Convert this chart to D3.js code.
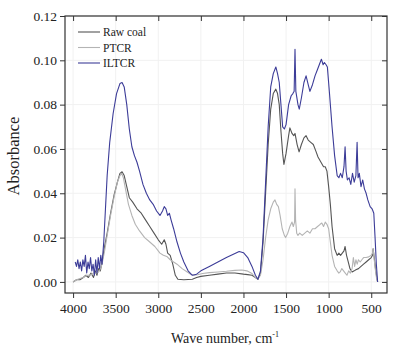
<!DOCTYPE html>
<html>
<head>
<meta charset="utf-8">
<script src="https://cdn.jsdelivr.net/npm/d3@7"></script>
<style>
  body { margin: 0; background: #fff; }
  svg text { font-family: "Liberation Serif", "DejaVu Serif", serif; fill: #222; }
</style>
</head>
<body>
<div id="chart"></div>
<script>
// FTIR spectra, [wave number cm-1, absorbance]
const seriesNames = ["Raw coal", "PTCR", "ILTCR"]

const rawCoal = [
  [4000,0.000],[3960,0.001],[3920,0.001],[3880,0.002],[3850,0.003],[3820,0.002],[3790,0.004],
  [3760,0.002],[3740,0.005],[3720,0.003],[3700,0.006],[3680,0.005],[3660,0.009],[3630,0.016],
  [3600,0.022],[3560,0.031],[3520,0.039],[3480,0.045],[3450,0.049],[3425,0.0497],[3400,0.048],
  [3370,0.043],[3340,0.038],[3300,0.036],[3250,0.033],[3200,0.031],[3150,0.028],[3100,0.025],
  [3050,0.022],[3000,0.019],[2960,0.017],[2930,0.019],[2910,0.017],[2890,0.013],[2860,0.012],
  [2830,0.008],[2800,0.003],[2770,0.0012],[2700,0.001],[2600,0.0012],[2550,0.002],[2500,0.0025],
  [2400,0.003],[2300,0.0035],[2200,0.004],[2100,0.004],[2000,0.0035],[1950,0.0033],[1900,0.003],
  [1860,0.002],[1830,0.0012],[1800,0.004],[1770,0.018],[1740,0.040],[1710,0.062],[1680,0.078],
  [1650,0.085],[1620,0.087],[1600,0.085],[1580,0.080],[1560,0.068],[1540,0.058],[1525,0.053],
  [1500,0.058],[1470,0.066],[1455,0.0695],[1430,0.067],[1410,0.066],[1395,0.067],[1370,0.062],
  [1347,0.0587],[1320,0.062],[1290,0.065],[1265,0.066],[1240,0.064],[1210,0.063],[1180,0.062],
  [1150,0.059],[1125,0.0564],[1090,0.054],[1060,0.052],[1040,0.052],[1020,0.050],[1000,0.043],
  [980,0.035],[960,0.025],[930,0.015],[900,0.012],[880,0.013],[860,0.012],[840,0.013],[820,0.014],
  [807,0.016],[790,0.012],[770,0.009],[750,0.006],[724,0.0045],[700,0.005],[680,0.0055],[650,0.006],
  [620,0.007],[590,0.008],[560,0.009],[530,0.010],[500,0.011],[485,0.012],[478,0.015],[465,0.011],
  [450,0.006],[435,0.002],[425,0.000]
]

const ptcr = [
  [4000,0.000],[3960,0.001],[3920,0.0015],[3880,0.002],[3840,0.003],[3800,0.003],[3760,0.004],
  [3720,0.004],[3690,0.005],[3660,0.008],[3630,0.014],[3600,0.021],[3560,0.030],[3520,0.038],
  [3480,0.045],[3450,0.048],[3430,0.049],[3410,0.047],[3380,0.041],[3350,0.035],[3310,0.030],
  [3270,0.026],[3220,0.023],[3160,0.020],[3100,0.018],[3040,0.016],[2980,0.013],[2940,0.012],
  [2900,0.0115],[2860,0.010],[2820,0.009],[2780,0.008],[2720,0.006],[2660,0.0045],[2620,0.0035],
  [2580,0.003],[2540,0.0032],[2480,0.0038],[2400,0.0042],[2300,0.0045],[2200,0.0048],[2100,0.0052],
  [2020,0.0054],[1960,0.005],[1900,0.0038],[1860,0.002],[1830,0.0014],[1800,0.003],[1770,0.010],
  [1740,0.020],[1710,0.028],[1680,0.033],[1650,0.036],[1630,0.037],[1610,0.035],[1590,0.034],
  [1570,0.030],[1545,0.024],[1520,0.021],[1505,0.020],[1480,0.022],[1455,0.025],[1430,0.027],
  [1415,0.025],[1400,0.027],[1395,0.042],[1388,0.028],[1375,0.022],[1360,0.021],[1340,0.022],
  [1310,0.021],[1280,0.022],[1250,0.023],[1220,0.022],[1190,0.024],[1160,0.024],[1130,0.025],
  [1100,0.026],[1080,0.0266],[1060,0.025],[1040,0.027],[1020,0.026],[1000,0.024],[980,0.018],
  [960,0.012],[930,0.007],[900,0.005],[880,0.004],[865,0.0045],[845,0.006],[825,0.005],[805,0.004],
  [785,0.003],[765,0.005],[745,0.004],[725,0.006],[710,0.011],[695,0.007],[680,0.010],[665,0.008],
  [650,0.010],[630,0.009],[610,0.010],[590,0.011],[560,0.011],[530,0.0113],[500,0.012],[485,0.013],
  [478,0.015],[465,0.010],[450,0.005],[435,0.001],[425,0.000]
]

const iltcr = [
  [3975,0.009],[3960,0.007],[3945,0.010],[3930,0.006],[3915,0.009],[3900,0.005],[3885,0.010],
  [3870,0.007],[3855,0.012],[3840,0.004],[3825,0.009],[3810,0.006],[3795,0.011],[3780,0.005],
  [3765,0.008],[3750,0.003],[3735,0.010],[3720,0.004],[3705,0.011],[3690,0.006],[3675,0.012],
  [3660,0.008],[3640,0.018],[3620,0.033],[3600,0.048],[3570,0.063],[3530,0.076],[3490,0.085],
  [3450,0.0895],[3425,0.090],[3400,0.088],[3370,0.080],[3340,0.069],[3310,0.061],[3280,0.057],
  [3250,0.054],[3220,0.050],[3180,0.044],[3140,0.040],[3100,0.037],[3060,0.035],[3020,0.032],
  [2980,0.030],[2950,0.032],[2930,0.034],[2910,0.033],[2890,0.030],[2870,0.031],[2850,0.028],
  [2820,0.024],[2780,0.018],[2740,0.013],[2700,0.009],[2650,0.005],[2600,0.003],[2550,0.0035],
  [2500,0.005],[2400,0.007],[2300,0.009],[2200,0.011],[2100,0.0128],[2050,0.0137],[2000,0.0132],
  [1950,0.011],[1900,0.007],[1860,0.003],[1830,0.0012],[1800,0.005],[1770,0.020],[1740,0.045],
  [1710,0.070],[1680,0.088],[1650,0.094],[1620,0.097],[1600,0.094],[1580,0.090],[1560,0.080],
  [1540,0.070],[1520,0.069],[1500,0.071],[1470,0.080],[1440,0.084],[1420,0.085],[1405,0.086],
  [1395,0.105],[1385,0.086],[1360,0.080],[1345,0.078],[1320,0.083],[1290,0.090],[1265,0.093],
  [1240,0.089],[1220,0.086],[1190,0.089],[1160,0.093],[1130,0.096],[1100,0.099],[1085,0.1005],
  [1065,0.098],[1050,0.099],[1030,0.098],[1015,0.097],[990,0.085],[960,0.070],[930,0.057],
  [900,0.048],[880,0.047],[860,0.049],[840,0.047],[820,0.052],[807,0.061],[795,0.050],[780,0.046],
  [760,0.047],[740,0.044],[720,0.049],[700,0.045],[680,0.048],[666,0.063],[655,0.047],[640,0.049],
  [620,0.043],[600,0.046],[580,0.042],[560,0.040],[540,0.037],[513,0.034],[490,0.033],[470,0.031],
  [455,0.020],[440,0.008],[425,0.000]
]

const xTicks = [4000, 3500, 3000, 2500, 2000, 1500, 1000, 500]
const yTicks = [0, 0.02, 0.04, 0.06, 0.08, 0.10, 0.12]

const width = 395, height = 356
const margin = {left: 65, right: 387, top: 16, bottom: 293}

const svg = d3.select("#chart").append("svg")
  .attr("width", width)
  .attr("height", height)

const x = d3.scaleLinear().domain([4095, 315]).range([margin.left, margin.right])
const y = d3.scaleLinear().domain([-0.005, 0.12]).range([margin.bottom, margin.top])

// faint grid
const grid = svg.append("g")
grid.selectAll("line.gx").data(xTicks).enter().append("line")
  .attr("x1", d => x(d)).attr("x2", d => x(d))
  .attr("y1", margin.top).attr("y2", margin.bottom)
  .attr("stroke", "#f1f1f1").attr("stroke-width", 1)
grid.selectAll("line.gy").data(yTicks).enter().append("line")
  .attr("x1", margin.left).attr("x2", margin.right)
  .attr("y1", d => y(d)).attr("y2", d => y(d))
  .attr("stroke", "#f1f1f1").attr("stroke-width", 1)

// axes
svg.append("g")
  .attr("transform", `translate(0,${margin.bottom})`)
  .call(d3.axisBottom(x).tickValues(xTicks).tickFormat(d3.format("d")).tickSize(5).tickSizeOuter(0).tickPadding(5))
svg.append("g")
  .attr("transform", `translate(${margin.left},0)`)
  .call(d3.axisLeft(y).tickValues(yTicks).tickFormat(d3.format(".2f")).tickSize(5).tickSizeOuter(0).tickPadding(3))
svg.append("g")
  .attr("transform", `translate(0,${margin.top})`)
  .call(d3.axisTop(x).tickValues(xTicks).tickSize(-5).tickSizeOuter(0).tickFormat(""))
svg.append("g")
  .attr("transform", `translate(${margin.right},0)`)
  .call(d3.axisRight(y).tickValues(yTicks).tickSize(-5).tickSizeOuter(0).tickFormat(""))

svg.selectAll(".domain").remove()
svg.selectAll(".tick line").attr("stroke", "#333")
svg.selectAll(".tick text")
  .attr("font-family", "Liberation Serif, serif")
  .attr("font-size", 13.5)
  .attr("fill", "#222")

svg.append("rect")
  .attr("x", margin.left).attr("y", margin.top)
  .attr("width", margin.right - margin.left).attr("height", margin.bottom - margin.top)
  .attr("fill", "none").attr("stroke", "#333").attr("stroke-width", 1.2)

// spectra
const line = d3.line().x(d => x(d[0])).y(d => y(d[1]))
const colors = ["#555555", "#b4b4b4", "#3c3c98"]
const allSeries = [rawCoal, ptcr, iltcr]

svg.append("g")
  .selectAll("path")
  .data(allSeries)
  .enter()
  .append("path")
  .attr("d", d => line(d))
  .attr("fill", "none")
  .attr("stroke", (d, i) => colors[i])
  .attr("stroke-width", 1.1)
  .attr("stroke-linejoin", "round")

// legend
const legend = svg.append("g").attr("transform", "translate(78,32)")
const rows = legend.selectAll("g").data(seriesNames).enter().append("g")
  .attr("transform", (d, i) => `translate(0,${i * 15.5})`)
rows.append("line")
  .attr("x1", 0).attr("x2", 22)
  .attr("stroke", (d, i) => colors[i]).attr("stroke-width", 1.1)
rows.append("text")
  .attr("x", 25).attr("y", 4)
  .attr("font-size", 11.5)
  .text(d => d)

// axis titles
svg.append("text")
  .attr("transform", "translate(19,156) rotate(-90)")
  .attr("text-anchor", "middle")
  .attr("font-size", 16.5)
  .text("Absorbance")

const xt = svg.append("text")
  .attr("x", 225).attr("y", 343)
  .attr("text-anchor", "middle")
  .attr("font-size", 14)
xt.append("tspan").text("Wave number, cm")
xt.append("tspan").attr("dy", -6).attr("font-size", 8).text("-1")
</script>
</body>
</html>
